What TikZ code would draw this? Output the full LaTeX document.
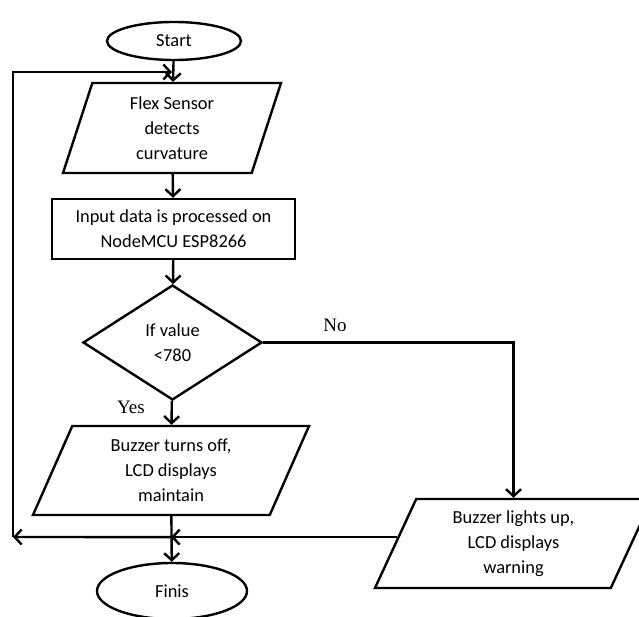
\documentclass[tikz,border=0pt]{standalone}
\usepackage{fontspec}
\setmainfont{Carlito}
\newfontfamily\labelfont{Liberation Serif}
\usetikzlibrary{arrows.meta, shapes.geometric, calc, positioning}

\tikzset{
    box/.style={draw, line width=2.4pt, fill=white, align=center, inner sep=0pt,
        font=\fontsize{18.4}{25}\selectfont},
    terminal/.style={box, ellipse},
    process/.style={box, rectangle},
    decision/.style={box, diamond},
    io/.style={box, trapezium, trapezium stretches body,
        trapezium left angle=#1, trapezium right angle=180-#1},
    arr/.style={line width=2.4pt, -{Straight Barb[length=7pt,width=15pt,line width=2.4pt]}},
    yesno/.style={font=\labelfont\fontsize{19}{22}\selectfont}
}

\begin{document}
\begin{tikzpicture}[x=1pt, y=-1pt]
        \useasboundingbox (0,0) rectangle (639,617);

        \node[terminal, minimum width=134, minimum height=38] (start) at (174,41) {Start};
        \node[io=65, minimum width=218, minimum height=90] (sense) at (172,128) {Flex Sensor\\detects\\curvature};
        \node[process, minimum width=243, minimum height=60] (proc) at (173.5,229) {Input data is processed on\\NodeMCU ESP8266};
        \node[decision, minimum width=179, minimum height=115] (check) at (172.5,342.5) {If value\\<780};
        \node[io=58, minimum width=276, minimum height=89] (off) at (171,470.5) {Buzzer turns off,\\LCD displays\\maintain};
        \node[io=58, minimum width=277, minimum height=89] (warn) at (513.5,543.5) {Buzzer lights up,\\LCD displays\\warning};
        \node[terminal, minimum width=150, minimum height=56] (finis) at (172,591) {Finis};

        \node[yesno] (yes) at (131,407) {Yes};
        \node[yesno] (no) at (335,325) {No};

        \coordinate (wl) at ($(warn.bottom left corner)!0.57!(warn.top left corner)$);
        \coordinate (merge) at (wl -| off.south);
        \coordinate (lb) at (13,537);
        \coordinate (lt) at (13,72);

        \draw[arr] (start) -- (sense);
        \draw[arr] (sense) -- (proc);
        \draw[arr] (proc) -- (check);
        \draw[arr] (check) -- (off);
        \draw[arr] (check.east) -| (warn.north);
        \draw[arr] (off) -- (finis);
        \draw[arr] (wl) -- (merge);
        \draw[arr] (merge) -- (lb);
        \draw[arr] (lb) -- (lt) -- (lt -| sense.north);
    \end{tikzpicture}
\end{document}
